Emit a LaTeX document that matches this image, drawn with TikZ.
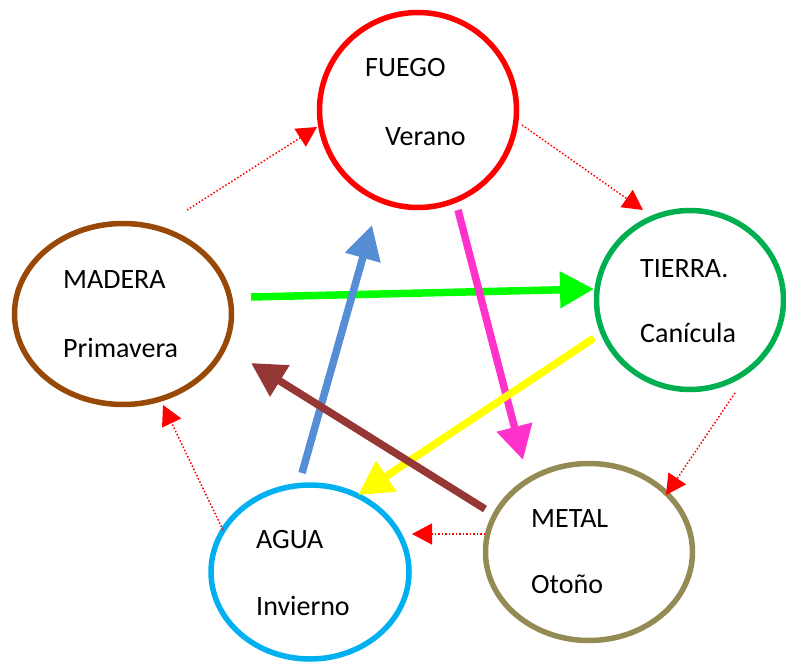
\documentclass[tikz,border=0pt]{standalone}
\usepackage{fontspec}
\setmainfont{Carlito}
\usetikzlibrary{shapes.geometric,arrows.meta}

\definecolor{fuegored}{HTML}{FF0000}
\definecolor{tierragreen}{HTML}{00B050}
\definecolor{metalolive}{HTML}{948A54}
\definecolor{aguacyan}{HTML}{00B0F0}
\definecolor{maderabrown}{HTML}{984807}
\definecolor{arrgreen}{HTML}{00FF00}
\definecolor{arrblue}{HTML}{558ED5}
\definecolor{arrpink}{HTML}{FF33CC}
\definecolor{arryellow}{HTML}{FFFF00}
\definecolor{arrbrown}{HTML}{953735}

\begin{document}
\begin{tikzpicture}[x=1pt,y=-1pt,
	elem/.style={shape=ellipse,line width=5.5pt,inner sep=0pt},
	lbl/.style={anchor=base west,inner sep=0pt,font=\fontsize{28}{33}\selectfont},
	gen/.style={-{Triangle[length=20pt,width=21pt]},draw=red,line width=1.5pt,dash pattern=on 1.5pt off 2pt},
	ctrl/.style={-{Triangle[length=34pt,width=35pt]},line width=7.5pt}]
	
	\useasboundingbox (0,0) rectangle (786,666);
	
	\node[elem,draw=fuegored,minimum width=197pt,minimum height=195pt] (fuego) at (418,110) {};
	\node[elem,draw=tierragreen,minimum width=187pt,minimum height=179pt] (tierra) at (690,300) {};
	\node[elem,draw=metalolive,minimum width=207pt,minimum height=177pt] (metal) at (589,552) {};
	\node[elem,draw=aguacyan,minimum width=198pt,minimum height=174pt] (agua) at (310,572) {};
	\node[elem,draw=maderabrown,minimum width=217pt,minimum height=181pt] (madera) at (123,314) {};
	
	\node[lbl] (fuegoA) at (365,77) {FUEGO};
	\node[lbl] (fuegoB) at (385,145) {Verano};
	\node[lbl] (tierraA) at (640,277) {TIERRA.};
	\node[lbl] (tierraB) at (640,342) {Canícula};
	\node[lbl] (metalA) at (531,527) {METAL};
	\node[lbl] (metalB) at (531,593) {Otoño};
	\node[lbl] (aguaA) at (256,548) {AGUA};
	\node[lbl] (aguaB) at (256,615) {Invierno};
	\node[lbl] (maderaA) at (63,288) {MADERA};
	\node[lbl] (maderaB) at (63,357) {Primavera};
	
	% generation cycle
	\coordinate (g1s) at (187,210);
	\coordinate (g1e) at (317,127);
	\coordinate (g2s) at (522,125);
	\coordinate (g2e) at (643,210);
	\coordinate (g3s) at (735,393);
	\coordinate (g3e) at (666,495);
	\coordinate (g4s) at (485,534);
	\coordinate (g4e) at (412,534);
	\coordinate (g5s) at (223,530);
	\coordinate (g5e) at (163,405);
	
	\draw[gen] (g1s) -- (g1e);
	\draw[gen] (g2s) -- (g2e);
	\draw[gen] (g3s) -- (g3e);
	\draw[gen] (g4s) -- (g4e);
	\draw[gen] (g5s) -- (g5e);
	
	% control cycle
	\coordinate (c1s) at (251,297);
	\coordinate (c1e) at (594,289);
	\coordinate (c2s) at (458,210);
	\coordinate (c2e) at (523,460);
	\coordinate (c3s) at (594,338);
	\coordinate (c3e) at (358,495);
	\coordinate (c4s) at (302,473);
	\coordinate (c4e) at (372,225);
	\coordinate (c5s) at (485,509);
	\coordinate (c5e) at (251,363);
	
	\draw[ctrl,draw=arrgreen] (c1s) -- (c1e);
	\draw[ctrl,draw=arrpink] (c2s) -- (c2e);
	\draw[ctrl,draw=arryellow] (c3s) -- (c3e);
	\draw[ctrl,draw=arrblue] (c4s) -- (c4e);
	\draw[ctrl,draw=arrbrown] (c5s) -- (c5e);
	
\end{tikzpicture}
\end{document}
